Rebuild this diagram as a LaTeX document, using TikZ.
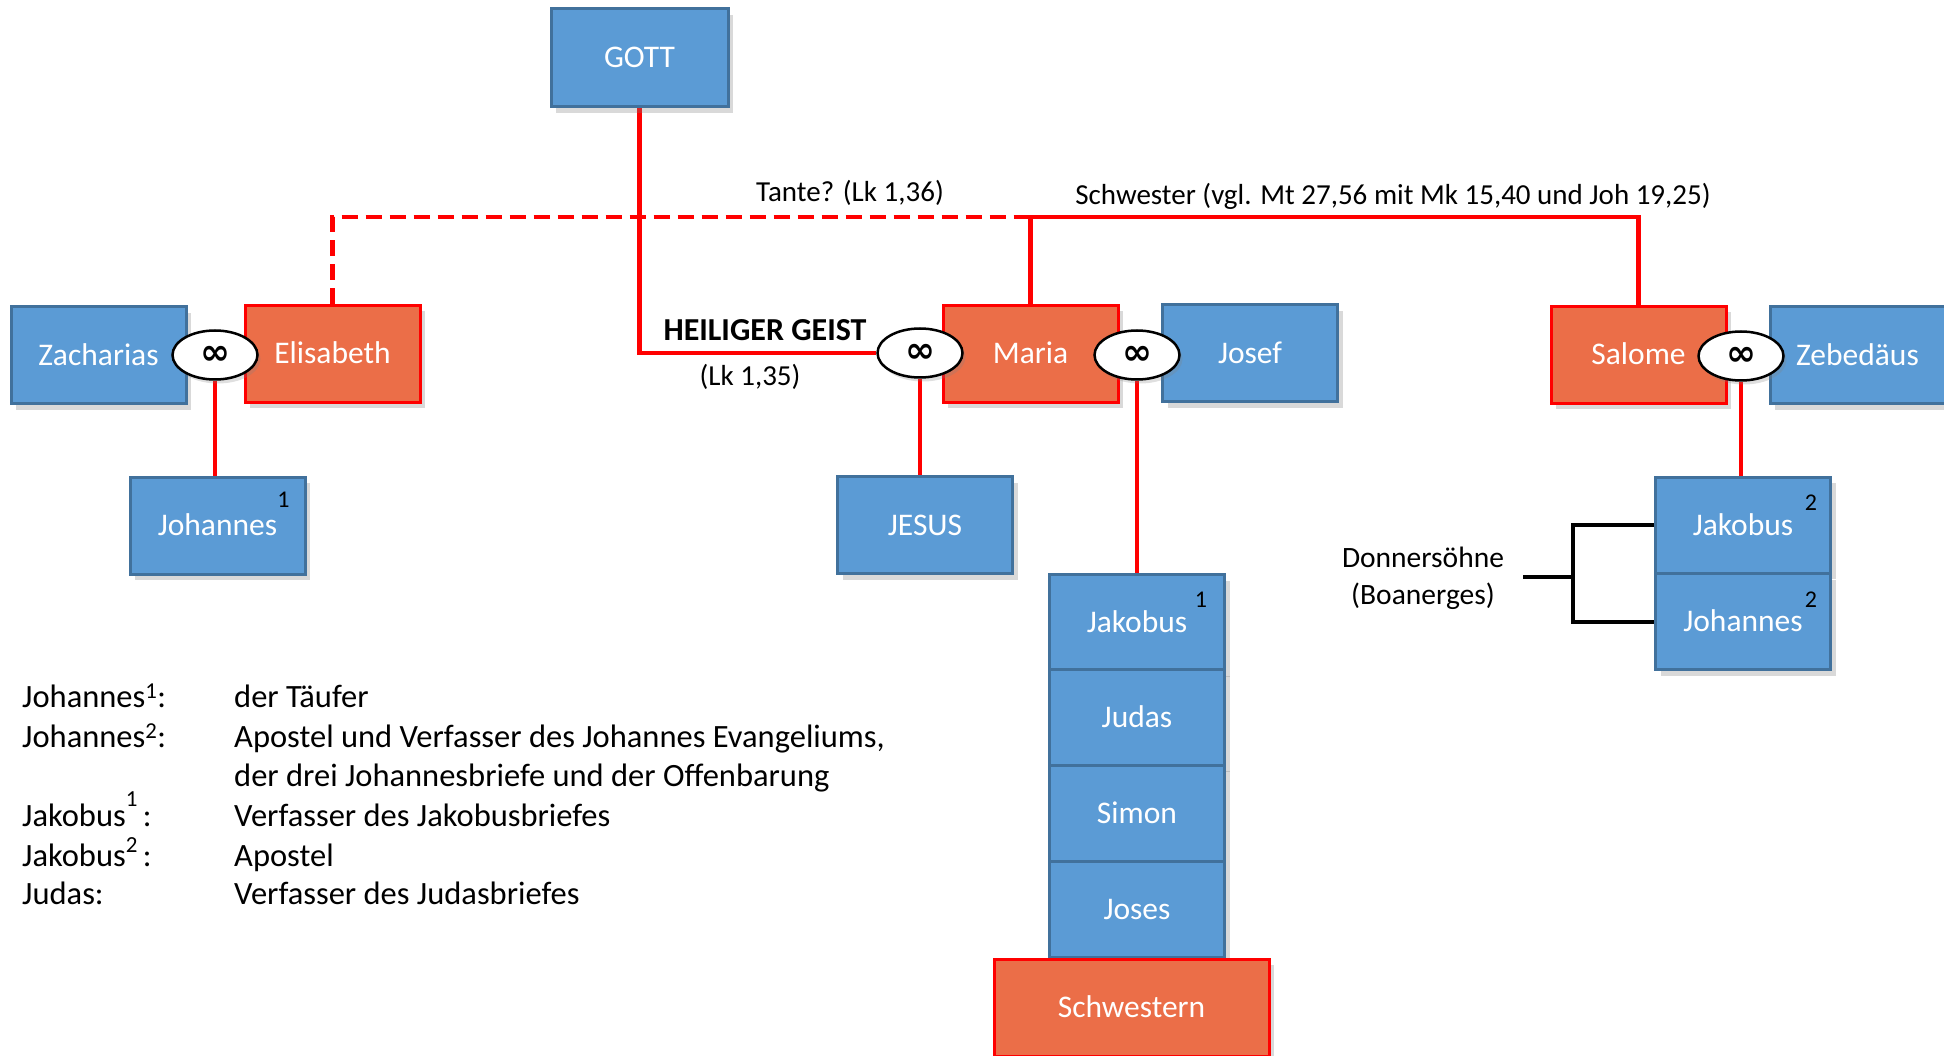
\documentclass[tikz,border=0pt]{standalone}
\usepackage{fontspec}
\setmainfont{Carlito}
\newfontfamily\symfnt{DejaVu Sans}
\usetikzlibrary{shadows,shapes.geometric,calc}
\definecolor{boxblue}{HTML}{5B9BD5}
\definecolor{boxblueline}{HTML}{41719C}
\definecolor{boxorange}{HTML}{EB6E48}
\definecolor{pured}{HTML}{FF0000}
\pgfdeclarelayer{bg}
\pgfsetlayers{bg,main}
\begin{document}
\begin{tikzpicture}[x=1pt,y=-1pt,
  box/.style={rectangle, minimum width=175pt, minimum height=97pt, inner sep=0pt,
    text=white, font=\fontsize{31.5}{36}\selectfont, line width=3pt,
    text height=20pt, text depth=0pt,
    drop shadow={shadow xshift=5pt, shadow yshift=-6pt, opacity=0.3}},
  bluebox/.style={box, fill=boxblue, draw=boxblueline},
  orangebox/.style={box, fill=boxorange, draw=pured},
  marr/.style={ellipse, draw=black, line width=2.5pt, fill=white,
    minimum width=85pt, minimum height=49pt, inner sep=0pt,
    font=\symfnt\bfseries\fontsize{36}{36}\selectfont,
    drop shadow={shadow xshift=3pt, shadow yshift=-4pt, opacity=0.25}},
  redline/.style={draw=pured, line width=4.5pt},
  reddash/.style={redline, dash pattern=on 16pt off 8pt},
  bracket/.style={draw=black, line width=4pt},
  lbl/.style={inner sep=0pt, font=\fontsize{29}{34}\selectfont},
  supnum/.style={inner sep=0pt, text=black, font=\fontsize{24}{24}\selectfont},
  legend/.style={inner sep=0pt, anchor=west, font=\fontsize{32.5}{38}\selectfont,
    text height=22pt, text depth=7pt}
]
\useasboundingbox (0,0) rectangle (1944,1056);

% boxes
\node[bluebox, minimum width=177pt, minimum height=98pt] (gott) at (639.5,58) {GOTT};
\node[bluebox] (zach) at (98.5,355.5) {Zacharias};
\node[orangebox] (elis) at (332.5,354) {Elisabeth};
\node[bluebox] (joh1) at (217.5,525.5) {Johannes};
\node[orangebox] (maria) at (1030.5,354) {Maria};
\node[bluebox] (josef) at (1250,353.5) {Josef};
\node[bluebox] (jesus) at (925,525) {JESUS};
\node[orangebox] (salome) at (1638.5,355) {Salome};
\node[bluebox] (zeb) at (1857.5,355.5) {Zebed\"aus};
\node[bluebox, minimum height=96pt] (jak2) at (1743,525) {Jakobus};
\node[bluebox, minimum height=96pt] (joh2) at (1743,621.5) {Johannes};
\node[bluebox, minimum height=96pt] (jak1) at (1137,622.5) {Jakobus};
\node[bluebox, minimum height=96pt] (judas) at (1137,717.5) {Judas};
\node[bluebox, minimum height=96pt] (simon) at (1137,813) {Simon};
\node[bluebox, minimum height=96pt] (joses) at (1137,909) {Joses};
\node[orangebox, minimum width=275pt] (schw) at (1131.5,1007.5) {Schwestern};

% superscripts in boxes
\node[supnum] (s1) at ($(joh1.north east)+(-23,24)$) {1};
\node[supnum] (s2) at ($(jak2.north east)+(-21,27)$) {2};
\node[supnum] (s3) at ($(joh2.north east)+(-21,28)$) {2};
\node[supnum] (s4) at ($(jak1.north east)+(-25,27)$) {1};

% marriage ellipses
\node[marr] (e1) at (215,355) {∞};
\node[marr] (e2) at (920,353) {∞};
\node[marr] (e3) at (1137,355) {∞};
\node[marr] (e4) at (1741,356) {∞};

\coordinate (topline) at (0,217);
\coordinate (stem) at (1523,577);

% connectors
\begin{pgfonlayer}{bg}
\draw[redline] (gott.south) |- (e2.west);
\draw[reddash] (elis.north) |- (maria.north |- topline);
\draw[redline] (maria.north) -- (maria.north |- topline) -| (salome.north);
\draw[redline] (e1.south) -- (e1.south |- joh1.north);
\draw[redline] (e2.south) -- (e2.south |- jesus.north);
\draw[redline] (e3.south) -- (e3.south |- jak1.north);
\draw[redline] (e4.south) -- (e4.south |- jak2.north);
\end{pgfonlayer}

% bracket
\draw[bracket] (jak2.west) -- ++(-81,0) coordinate (bt) -- (bt |- joh2.west) -- (joh2.west);
\draw[bracket] (stem) -- (stem -| bt);

% labels
\node[lbl] (tante) at (850,193) {Tante? (Lk 1,36)};
\node[lbl] (schwlbl) at (1393,196) {Schwester (vgl. Mt 27,56 mit Mk 15,40 und Joh 19,25)};
\node[lbl, font=\bfseries\fontsize{32}{36}\selectfont] (hg) at (765,330) {HEILIGER GEIST};
\node[lbl] (lk135) at (750,377) {(Lk 1,35)};
\node[lbl, align=center, font=\fontsize{29.5}{37}\selectfont] (donner) at (1423,578) {Donners\"ohne\\(Boanerges)};

% legend
\node[legend] (l1a) at (22,700) {Johannes\textsuperscript{1}:};
\node[legend] (l1b) at (234,700) {der T\"aufer};
\node[legend] (l2a) at (22,740) {Johannes\textsuperscript{2}:};
\node[legend] (l2b) at (234,740) {Apostel und Verfasser des Johannes Evangeliums,};
\node[legend] (l3b) at (234,779) {der drei Johannesbriefe und der Offenbarung};
\node[legend] (l4a) at (22,819) {Jakobus\raisebox{20pt}{\fontsize{23}{23}\selectfont 1}\,:};
\node[legend] (l4b) at (234,819) {Verfasser des Jakobusbriefes};
\node[legend] (l5a) at (22,859) {Jakobus\raisebox{14pt}{\fontsize{23}{23}\selectfont 2}\,:};
\node[legend] (l5b) at (234,859) {Apostel};
\node[legend] (l6a) at (22,897) {Judas:};
\node[legend] (l6b) at (234,897) {Verfasser des Judasbriefes};
\end{tikzpicture}
\end{document}
